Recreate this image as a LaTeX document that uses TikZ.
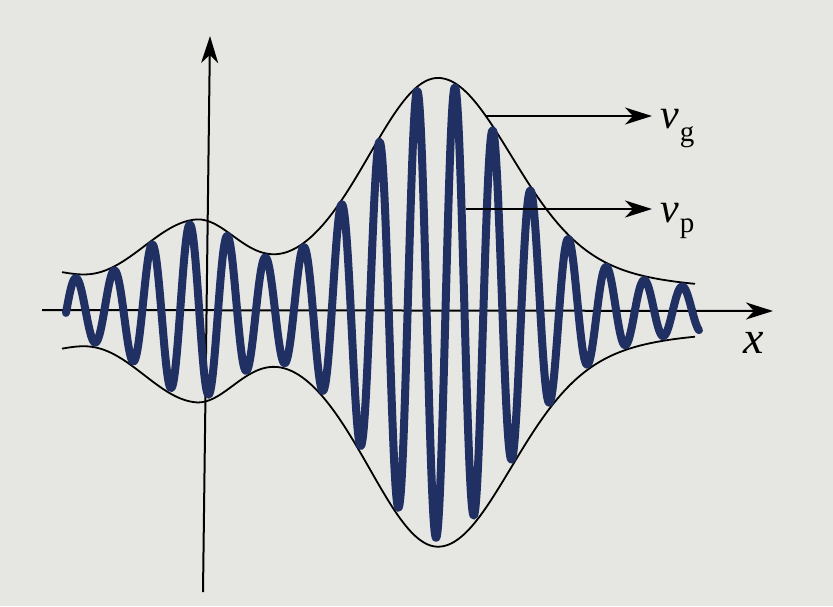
\documentclass[tikz,border=0pt]{standalone}
\usepackage{fontspec}
\setmainfont{Liberation Serif}[ItalicFont={Liberation Serif Italic}]
\usetikzlibrary{arrows.meta}
\definecolor{paper}{RGB}{230,230,227}
\definecolor{wave}{RGB}{33,48,98}
\begin{document}
\begin{tikzpicture}[x=1pt,y=-1pt,
  axisline/.style={line width=2pt, black},
  tipped/.style={-{Stealth[length=27pt,width=17pt,inset=8pt]}},
  envline/.style={line width=1.8pt, black},
  carrier/.style={line width=8pt, wave, line join=round, line cap=round},
  lbl/.style={anchor=base west, inner sep=0pt, font=\fontsize{42}{42}\selectfont\itshape},
  declare function={
    env(\q)=20+175*exp(-((\q-438)/(\q<438?94:100))*((\q-438)/(\q<438?94:100)))
      +37*exp(-((\q-438)/190)*((\q-438)/190))
      +63*exp(-((\q-195)/(\q<195?76:58))*((\q-195)/(\q<195?76:58)))
      +18*exp(-((\q-40)/45)*((\q-40)/45));
  }]
  % background / bounding box
  \fill[paper] (0,0) rectangle (833,606);
  \useasboundingbox (0,0) rectangle (833,606);

  % axes
  \coordinate (xs) at (42,310);
  \coordinate (xe) at (773,311);
  \coordinate (ybot) at (203,592);
  \coordinate (ytop) at (210,36);
  \draw[axisline,tipped] (xs) -- (xe);
  \draw[axisline,tipped] (ybot) -- (ytop);

  % envelope
  \draw[envline] plot[domain=62:695,samples=320] (\x,{310-env(\x)});
  \draw[envline] plot[domain=62:695,samples=320] (\x,{310+1.02*env(\x)});

  % carrier wave
  \draw[carrier] plot[domain=66:699,samples=1100]
     (\x,{310-(env(\x)-4)*cos((\x-76)/37.9*360)});

  % velocity arrows
  \coordinate (gs) at (486,116);
  \coordinate (ge) at (652,116);
  \coordinate (ps) at (466,209);
  \coordinate (pe) at (652,209);
  \draw[axisline,tipped] (gs) -- (ge);
  \draw[axisline,tipped] (ps) -- (pe);

  % labels
  \node[lbl] (vg) at (660,128) {v\/\kern1pt\raisebox{-13pt}{\fontsize{29}{29}\selectfont\upshape g}};
  \node[lbl] (vp) at (660,222) {v\/\kern1pt\raisebox{-10pt}{\fontsize{29}{29}\selectfont\upshape p}};
  \node[lbl, font=\fontsize{46}{46}\selectfont\itshape] (xl) at (743,353) {x};
\end{tikzpicture}
\end{document}
